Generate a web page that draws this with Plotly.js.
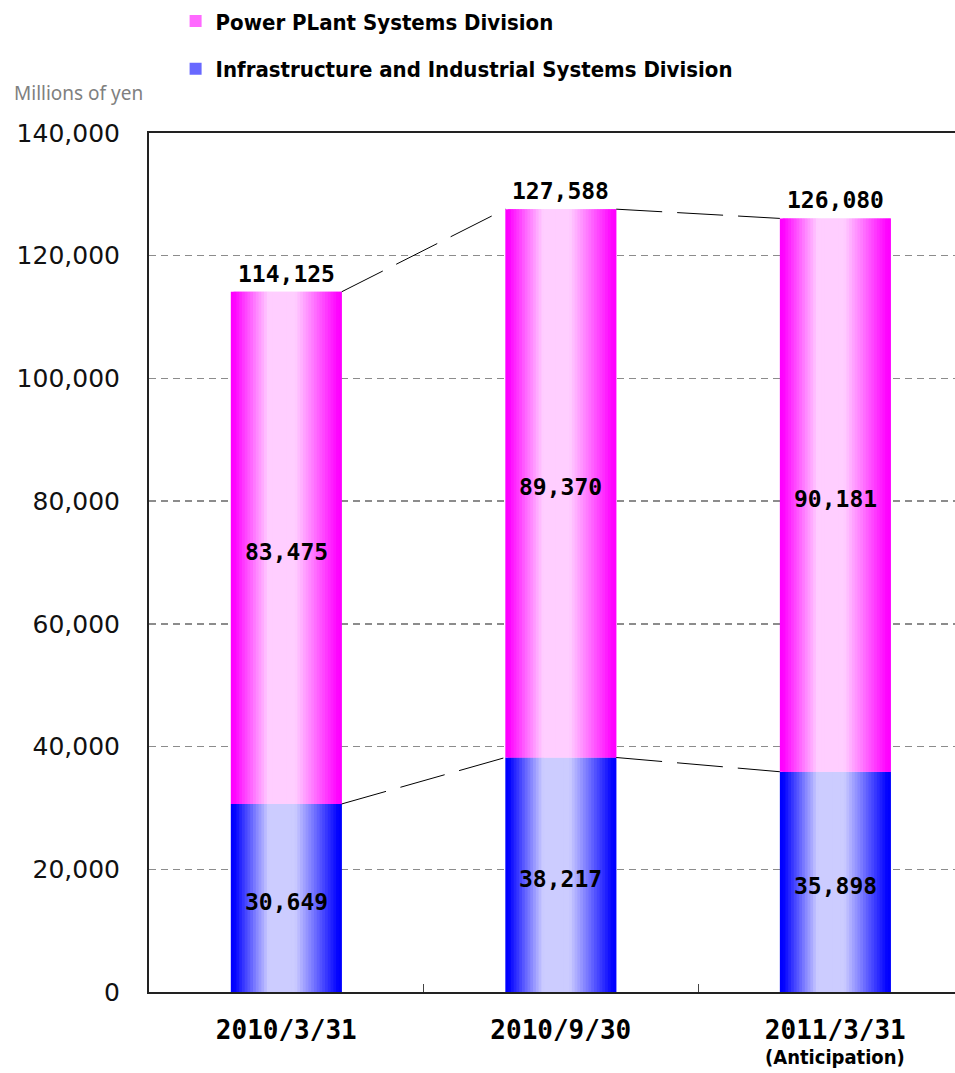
<!DOCTYPE html>
<html><head><meta charset="utf-8">
<script src="https://cdn.plot.ly/plotly-3.0.1.min.js"></script>
<style>html,body{margin:0;padding:0;background:#fff}#chart{width:955px;height:1073px}</style>
</head><body><div id="chart"></div>
<script>
// ---- data ----
const categories = ['2010/3/31', '2010/9/30', '2011/3/31'];
const tickLabels = ['2010/3/31', '2010/9/30', '2011/3/31'];
const subLabels = ['', '', '(Anticipation)'];
const infraValues = [30649, 38217, 35898];
const powerValues = [83475, 89370, 90181];
const totalValues = [114125, 127588, 126080];
const powerName = 'Power PLant Systems Division';
const infraName = 'Infrastructure and Industrial Systems Division';
const unitLabel = 'Millions of yen';

// ---- style ----
const N = 40, W = 0.404;
const XRANGE = [-0.5, 2.436];
const pinkSat = [255, 0, 255], pinkLight = [255, 206, 255];
const blueSat = [0, 0, 255], blueLight = [204, 204, 255];
const stops = [[0, 0], [0.03, 0], [0.34, 1], [0.58, 1], [0.97, 0], [1, 0]];
function lightness(p) {
  for (let k = 1; k < stops.length; k++) {
    if (p <= stops[k][0]) {
      const a = stops[k - 1], b = stops[k];
      const f = (p - a[0]) / ((b[0] - a[0]) || 1);
      return a[1] + (b[1] - a[1]) * f;
    }
  }
  return 0;
}
function mix(c1, c2, t) {
  return 'rgb(' + c1.map((v, i) => Math.round(v + (c2[i] - v) * t)).join(',') + ')';
}
const fmt = v => v.toLocaleString('en-US');

const traces = [];
function addSeries(vals, bases, sat, light, name, rank) {
  const legendSlice = Math.round(N * 0.18);
  const step = W / N;
  for (let i = 0; i < N; i++) {
    const p = (i + 0.5) / N;
    traces.push({
      type: 'bar', x: categories, y: vals, base: bases,
      width: i < N - 1 ? 2 * step : step, offset: -W / 2 + i * step,
      marker: {color: mix(sat, light, lightness(p)), line: {width: 0}},
      name: name, legendgroup: name, legendrank: rank,
      showlegend: i === legendSlice, hoverinfo: 'skip'
    });
  }
}
const zeros = categories.map(() => 0);
addSeries(infraValues, zeros, blueSat, blueLight, infraName, 2);
addSeries(powerValues, infraValues, pinkSat, pinkLight, powerName, 1);

// connectors
function connector(tops) {
  const xs = [], ys = [];
  for (let j = 0; j < tops.length - 1; j++) {
    if (j > 0) { xs.push(null); ys.push(null); }
    xs.push(j + W / 2, j + 1 - W / 2);
    ys.push(tops[j], tops[j + 1]);
  }
  return {type: 'scatter', mode: 'lines', x: xs, y: ys, xaxis: 'x2',
    line: {color: '#000', width: 1, dash: '46px,15px'}, showlegend: false, hoverinfo: 'skip'};
}
traces.push(connector(infraValues));
traces.push(connector(totalValues));

const labelFont = {family: 'DejaVu Sans Mono', size: 23, weight: 'bold', color: '#000'};
const annotations = [];
categories.forEach((c, i) => {
  annotations.push({x: c, y: infraValues[i] / 2, xref: 'x', yref: 'y', text: fmt(infraValues[i]),
    showarrow: false, yshift: -4, font: labelFont});
  annotations.push({x: c, y: infraValues[i] + powerValues[i] / 2, xref: 'x', yref: 'y', text: fmt(powerValues[i]),
    showarrow: false, yshift: -4, font: labelFont});
  annotations.push({x: c, y: totalValues[i], xref: 'x', yref: 'y', text: fmt(totalValues[i]),
    showarrow: false, yanchor: 'bottom', yshift: 3, font: labelFont});
  if (subLabels[i]) {
    annotations.push({x: c, xref: 'x', yref: 'paper', y: -0.0755, yanchor: 'middle', text: subLabels[i],
      showarrow: false, font: {family: 'DejaVu Sans Condensed, DejaVu Sans', size: 20, weight: 'bold', color: '#000'}});
  }
});
annotations.push({
  text: unitLabel, xref: 'paper', yref: 'paper', x: -0.17, xanchor: 'left',
  y: 1.0465, yanchor: 'middle', showarrow: false,
  font: {family: 'Noto Sans', size: 19, color: '#808080'}
});

const layout = {
  width: 955, height: 1073,
  margin: {l: 149, r: 0, t: 131, b: 81},
  paper_bgcolor: '#fff', plot_bgcolor: '#fff',
  barmode: 'overlay', hovermode: false,
  showlegend: true,
  legend: {
    x: 0.033, xanchor: 'left', y: 1.1545, yanchor: 'top',
    traceorder: 'grouped', tracegroupgap: 16,
    font: {family: 'DejaVu Sans Condensed, DejaVu Sans', size: 22, weight: 'bold', color: '#000'},
    bgcolor: 'rgba(0,0,0,0)', borderwidth: 0
  },
  xaxis: {
    type: 'category', range: XRANGE, tickmode: 'array', tickvals: categories, ticktext: tickLabels,
    tickson: 'boundaries', ticks: 'inside', ticklen: 8, tickwidth: 1, tickcolor: '#444',
    showline: true, linecolor: '#222', linewidth: 2, mirror: true,
    showgrid: false, zeroline: false, ticklabelstandoff: 14,
    tickfont: {family: 'DejaVu Sans Mono', size: 26, weight: 'bold', color: '#000'}
  },
  xaxis2: {overlaying: 'x', range: XRANGE, visible: false},
  yaxis: {
    range: [0, 140000], tickmode: 'linear', tick0: 0, dtick: 20000, tickformat: ',d',
    showgrid: true, gridcolor: '#8c8c8c', griddash: '7px,5px', gridwidth: 1.5,
    zeroline: false, showline: true, linecolor: '#222', linewidth: 2, ticks: '',
    ticklabelstandoff: 22,
    tickfont: {family: 'DejaVu Sans', size: 25, color: '#111'}
  },
  annotations: annotations
};

Plotly.newPlot('chart', traces, layout, {displayModeBar: false, staticPlot: true});
</script>
</body></html>
